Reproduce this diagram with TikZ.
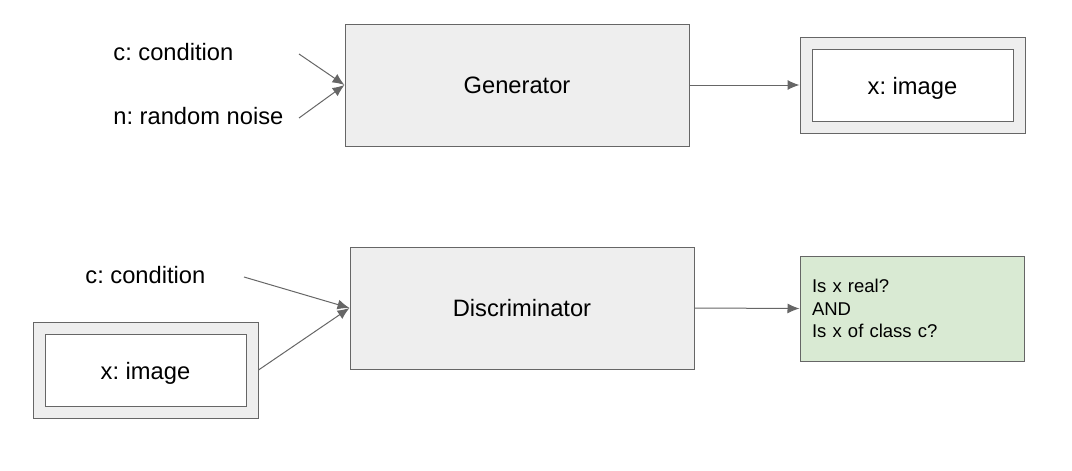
\documentclass[tikz,border=0pt]{standalone}
\usepackage{fontspec}
\setmainfont{Liberation Sans}
\usetikzlibrary{arrows.meta}
\definecolor{boxgray}{HTML}{EEEEEE}
\definecolor{linegray}{HTML}{666666}
\definecolor{resgreen}{HTML}{D9EAD3}
\tikzset{
    block/.style={rectangle,draw=linegray,fill=boxgray,line width=0.5pt,minimum width=172pt,minimum height=61pt,font=\fontsize{11.85}{14}\selectfont},
    frame/.style={rectangle,draw=linegray,fill=boxgray,line width=0.5pt,minimum width=112.5pt,minimum height=48pt},
    inner/.style={rectangle,draw=linegray,fill=white,line width=0.5pt,minimum width=100.5pt,minimum height=36pt,text height=11.5pt,text depth=2pt,font=\fontsize{11.85}{14}\selectfont},
    label/.style={anchor=west,inner sep=0pt,font=\fontsize{11.85}{14}\selectfont},
    edge/.style={-{Latex[length=6pt,width=5pt]},draw=linegray,line width=0.5pt}
}

\begin{document}
\frenchspacing
\begin{tikzpicture}[x=0.5pt,y=-0.5pt]
\useasboundingbox (0,0) rectangle (1072,471);
% generator
\node[block] (gen) at (517,85) {Generator};
\node[label] (c1) at (113,52) {c: condition};
\node[label] (n1) at (113,116) {n: random noise};
\coordinate (c1e) at (299,54);
\coordinate (n1e) at (299,118);
\node[frame] (xo1) at (912.5,85) {};
\node[inner] (xi1) at (912.5,85) {x: image};

% discriminator
\node[block] (disc) at (522,308) {Discriminator};
\node[label] (c2) at (85,275) {c: condition};
\coordinate (c2e) at (244,277);
\node[frame] (xo2) at (145.5,370) {};
\node[inner] (xi2) at (145.5,370) {x: image};
\node[rectangle,draw=linegray,fill=resgreen,line width=0.5pt,minimum width=112pt,minimum height=52.5pt,
      text width=100pt,inner sep=6pt,align=left,font=\fontsize{9.25}{11.25}\selectfont] (res) at (912,308.5)
      {Is x real?\\AND\\Is x of class c?};

\draw[edge] (c1e) -- (gen.west);
\draw[edge] (n1e) -- (gen.west);
\draw[edge] (gen.east) -- (xo1.west);
\draw[edge] (c2e) -- (disc.west);
\draw[edge] (xo2.east) -- (disc.west);
\draw[edge] (disc.east) -- (res.west);

\end{tikzpicture}
\end{document}
